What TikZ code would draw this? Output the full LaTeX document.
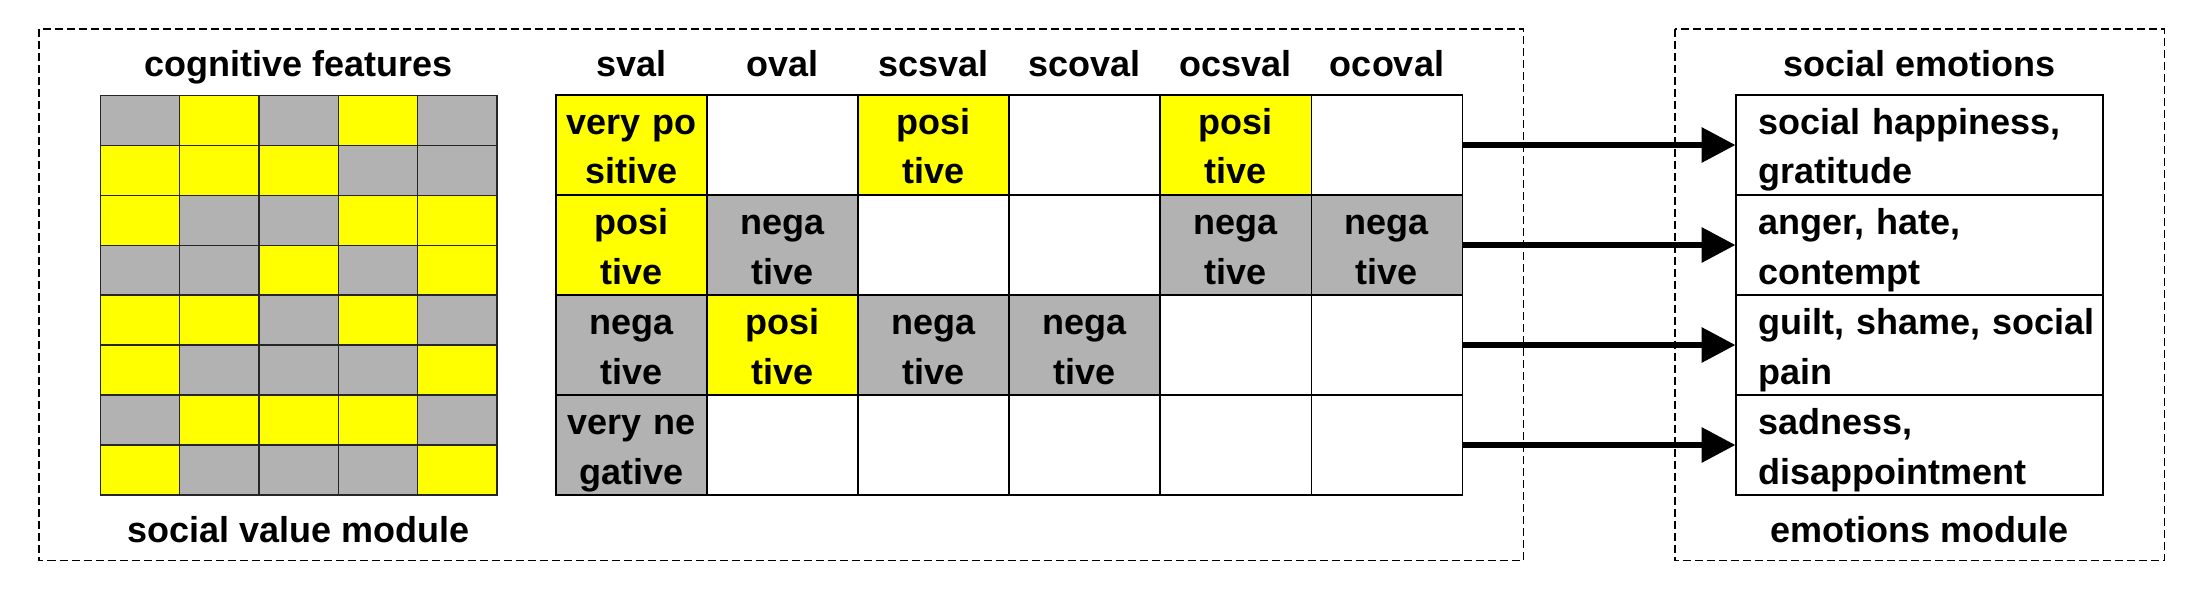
\documentclass[tikz,border=0pt]{standalone}
\usepackage{fontspec}
\setmainfont{Liberation Sans}
\usetikzlibrary{arrows.meta}
\definecolor{cY}{RGB}{255,255,0}
\definecolor{cG}{RGB}{178,178,178}
\definecolor{cW}{RGB}{255,255,255}
\tikzset{
  txt/.style={font=\bfseries\fontsize{36}{49.5}\selectfont, text=black},
  cell/.style={txt, rectangle, draw=black, line width=1.7pt, inner sep=0pt, outer sep=0pt,
    minimum width=151.08pt, text width=151.08pt, align=center,
    text height=39.5pt, text depth=60.5pt, anchor=north west},
  ecell/.style={txt, rectangle, draw=black, line width=2pt, inner sep=0pt, outer sep=0pt,
    minimum width=367.5pt, text width=367.5pt, align=left,
    text height=39.5pt, text depth=60.5pt, anchor=north west,
    execute at begin node={\leftskip=23pt\relax}},
  hdr/.style={txt, anchor=base, inner sep=0pt},
  dbox/.style={draw=black, line width=1.6pt, dash pattern=on 8pt off 4pt},
  gcell/.style={draw=black!85, line width=1.3pt},
  arr/.style={draw=black, line width=6.5pt, -{Triangle[length=34pt,width=34pt]}}
}
\begin{document}
\begin{tikzpicture}[x=1pt,y=-1pt]
\useasboundingbox[fill=white] (0,0) rectangle (2204,591);
% dashed module boxes
\draw[dbox] (39,29) rectangle (1523.3,560.5);
\draw[dbox] (1674.7,29) rectangle (2164.3,560.5);
% labels
\node[hdr] (cogfeat) at (298.5,76.5) {cognitive features};
\node[hdr] (svmod) at (298.5,542.5) {social value module};
\node[hdr] (socemo) at (1919.3,76.5) {social emotions};
\node[hdr] (emomod) at (1919.3,542.5) {emotions module};
% cognitive feature grid
\foreach \row [count=\r] in {{cG,cY,cG,cY,cG},{cY,cY,cY,cG,cG},{cY,cG,cG,cY,cY},{cG,cG,cY,cG,cY},{cY,cY,cG,cY,cG},{cY,cG,cG,cG,cY},{cG,cY,cY,cY,cG},{cY,cG,cG,cG,cY}}{
  \foreach \c [count=\k] in \row {
    \filldraw[gcell, fill=\c] ({100.5+(\k-1)*79.3},{95.3+(\r-1)*49.95}) rectangle ++(79.3,49.95);
  }
}
% headers
\node[hdr] (h1) at (631.5,76.5) {sval};
\node[hdr] (h2) at (782.6,76.5) {oval};
\node[hdr] (h3) at (933.7,76.5) {scsval};
\node[hdr] (h4) at (1084.8,76.5) {scoval};
\node[hdr] (h5) at (1235.9,76.5) {ocsval};
\node[hdr] (h6) at (1387.0,76.5) {ocoval};
% value table
\node[cell,fill=cY] (t11) at (556,95) {very po\\sitive};
\node[cell,fill=cW] (t12) at (707.08,95) {};
\node[cell,fill=cY] (t13) at (858.16,95) {posi\\tive};
\node[cell,fill=cW] (t14) at (1009.24,95) {};
\node[cell,fill=cY] (t15) at (1160.32,95) {posi\\tive};
\node[cell,fill=cW] (t16) at (1311.4,95) {};
\node[cell,fill=cY] (t21) at (556,195) {posi\\tive};
\node[cell,fill=cG] (t22) at (707.08,195) {nega\\tive};
\node[cell,fill=cW] (t23) at (858.16,195) {};
\node[cell,fill=cW] (t24) at (1009.24,195) {};
\node[cell,fill=cG] (t25) at (1160.32,195) {nega\\tive};
\node[cell,fill=cG] (t26) at (1311.4,195) {nega\\tive};
\node[cell,fill=cG] (t31) at (556,295) {nega\\tive};
\node[cell,fill=cY] (t32) at (707.08,295) {posi\\tive};
\node[cell,fill=cG] (t33) at (858.16,295) {nega\\tive};
\node[cell,fill=cG] (t34) at (1009.24,295) {nega\\tive};
\node[cell,fill=cW] (t35) at (1160.32,295) {};
\node[cell,fill=cW] (t36) at (1311.4,295) {};
\node[cell,fill=cG] (t41) at (556,395) {very ne\\gative};
\node[cell,fill=cW] (t42) at (707.08,395) {};
\node[cell,fill=cW] (t43) at (858.16,395) {};
\node[cell,fill=cW] (t44) at (1009.24,395) {};
\node[cell,fill=cW] (t45) at (1160.32,395) {};
\node[cell,fill=cW] (t46) at (1311.4,395) {};
% emotions table
\node[ecell] (e1) at (1735.5,95) {social happiness,\\gratitude};
\node[ecell] (e2) at (1735.5,195) {anger, hate,\\contempt};
\node[ecell] (e3) at (1735.5,295) {guilt, shame, social\\pain};
\node[ecell] (e4) at (1735.5,395) {sadness,\\disappointment};
% arrows
\draw[arr] (t16.east) -- (e1.west);
\draw[arr] (t26.east) -- (e2.west);
\draw[arr] (t36.east) -- (e3.west);
\draw[arr] (t46.east) -- (e4.west);
\end{tikzpicture}
\end{document}
